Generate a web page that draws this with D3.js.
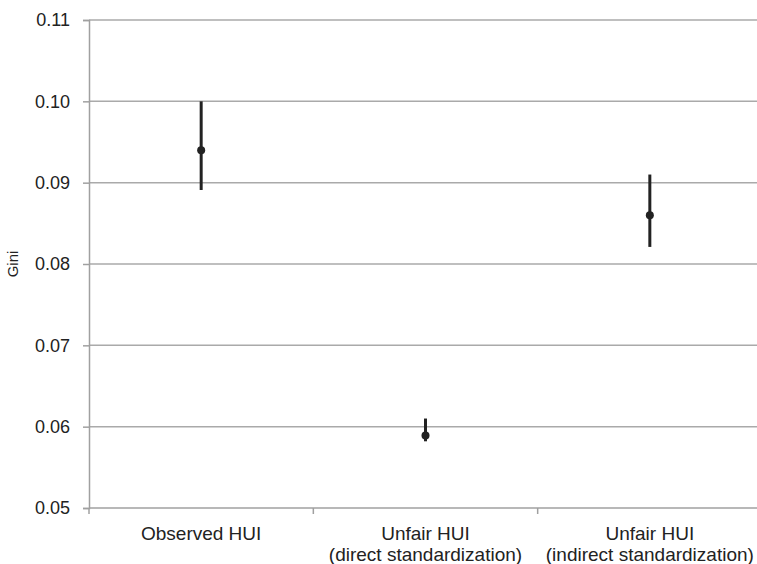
<!DOCTYPE html>
<html>
<head>
<meta charset="utf-8">
<script src="https://cdn.jsdelivr.net/npm/d3@7"></script>
<style>
  body { margin: 0; background: #fff; }
  text { font-family: "Liberation Sans", Arial, sans-serif; fill: #222; }
</style>
</head>
<body>
<div id="graphic"></div>
<script>
const width = 757;
const height = 564;

// data
const categories = ['Observed HUI', 'Unfair HUI\n(direct standardization)', 'Unfair HUI\n(indirect standardization)'];
const gini = [0.094, 0.0589, 0.086];
const lower = [0.0891, 0.0582, 0.0821];
const upper = [0.100, 0.061, 0.091];
const yTicks = [0.05, 0.06, 0.07, 0.08, 0.09, 0.10, 0.11];

const margin = {top: 20, right: -5, bottom: 56, left: 89};

const svg = d3.select('#graphic')
  .append('svg')
  .attr('width', width)
  .attr('height', height);

const scaleY = d3.scaleLinear()
  .domain([0.05, 0.11])
  .range([height - margin.bottom, margin.top]);

const scaleX = d3.scaleBand()
  .domain(categories)
  .range([margin.left, width - margin.right]);

// gridlines
svg.append('g')
  .selectAll('line')
  .data(yTicks.slice(1))
  .enter()
  .append('line')
  .attr('x1', margin.left)
  .attr('x2', width)
  .attr('y1', d => scaleY(d))
  .attr('y2', d => scaleY(d))
  .attr('stroke', '#aaaaaa')
  .attr('stroke-width', 1.5);

// y axis
const axisY = d3.axisLeft(scaleY)
  .tickValues(yTicks)
  .tickFormat(d3.format('.2f'))
  .tickSize(6)
  .tickPadding(13);

const gy = svg.append('g')
  .attr('transform', `translate(${margin.left},0)`)
  .call(axisY);
gy.select('.domain').attr('stroke', '#a0a0a0').attr('stroke-width', 1.5);
gy.selectAll('.tick line').attr('stroke', '#a0a0a0').attr('stroke-width', 1.5);
gy.selectAll('.tick text').style('font-size', '18px').attr('fill', '#222');

// x axis: ticks at band edges
const gx = svg.append('g')
  .attr('transform', `translate(0,${scaleY(0.05)})`);
gx.append('line')
  .attr('x1', margin.left)
  .attr('x2', width)
  .attr('stroke', '#a0a0a0')
  .attr('stroke-width', 1.5);
gx.selectAll('.edge')
  .data(categories)
  .enter()
  .append('line')
  .attr('class', 'edge')
  .attr('x1', d => scaleX(d))
  .attr('x2', d => scaleX(d))
  .attr('y1', 0)
  .attr('y2', 6)
  .attr('stroke', '#a0a0a0')
  .attr('stroke-width', 1.5);

const labels = gx.selectAll('.lbl')
  .data(categories)
  .enter()
  .append('text')
  .attr('class', 'lbl')
  .attr('text-anchor', 'middle')
  .style('font-size', '19px');
labels.selectAll('tspan')
  .data(d => d.split('\n').map(s => ({s: s, c: d})))
  .enter()
  .append('tspan')
  .attr('x', d => scaleX(d.c) + scaleX.bandwidth() / 2)
  .attr('y', (d, i) => 32 + i * 21)
  .text(d => d.s);

// y label
svg.append('text')
  .attr('transform', `translate(18,${scaleY(0.08)}) rotate(-90)`)
  .attr('text-anchor', 'middle')
  .style('font-size', '15px')
  .text('Gini');

// error bars and points
const cx = i => scaleX(categories[i]) + scaleX.bandwidth() / 2;

svg.append('g')
  .selectAll('line')
  .data(gini)
  .enter()
  .append('line')
  .attr('x1', (d, i) => cx(i))
  .attr('x2', (d, i) => cx(i))
  .attr('y1', (d, i) => scaleY(lower[i]))
  .attr('y2', (d, i) => scaleY(upper[i]))
  .attr('stroke', '#222')
  .attr('stroke-width', 3);

svg.append('g')
  .selectAll('circle')
  .data(gini)
  .enter()
  .append('circle')
  .attr('cx', (d, i) => cx(i))
  .attr('cy', d => scaleY(d))
  .attr('r', 4)
  .attr('fill', '#222');
</script>
</body>
</html>
